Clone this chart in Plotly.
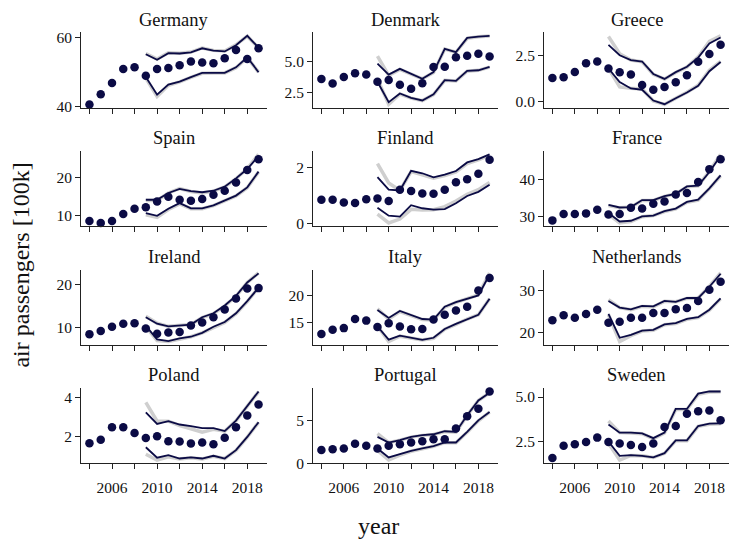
import plotly.graph_objects as go
from plotly.subplots import make_subplots

# ---- data -------------------------------------------------------------
years = list(range(2004, 2020))
fc_years = list(range(2009, 2020))

countries = ["Germany", "Denmark", "Greece", "Spain", "Finland", "France",
             "Ireland", "Italy", "Netherlands", "Poland", "Portugal", "Sweden"]

# observed passengers [100k], 2004-2019
obs = {
    "Germany": [40.7, 43.6, 46.9, 50.9, 51.4, 49.0, 50.9, 51.2, 52.0, 53.1, 52.8, 52.6, 54.0, 56.4, 53.8, 56.9],
    "Denmark": [3.58, 3.23, 3.74, 4.05, 3.94, 3.37, 3.50, 3.13, 2.81, 3.26, 4.53, 4.55, 5.31, 5.42, 5.58, 5.36],
    "Greece": [1.30, 1.34, 1.63, 2.11, 2.20, 1.82, 1.62, 1.49, 0.92, 0.66, 0.81, 1.07, 1.45, 2.19, 2.61, 3.11],
    "Spain": [8.5, 8.0, 8.5, 10.4, 11.8, 12.2, 13.7, 15.0, 14.2, 13.9, 14.4, 15.5, 16.6, 18.8, 22.1, 25.0],
    "Finland": [0.85, 0.85, 0.75, 0.73, 0.86, 0.89, 0.80, 1.21, 1.16, 1.07, 1.06, 1.21, 1.48, 1.58, 1.78, 2.29],
    "France": [29.0, 30.7, 30.7, 30.9, 31.9, 30.6, 30.7, 32.4, 32.2, 33.5, 34.1, 36.0, 36.4, 39.4, 42.9, 45.6],
    "Ireland": [8.5, 9.2, 10.2, 10.9, 11.0, 9.8, 8.6, 8.9, 9.0, 10.5, 11.2, 12.4, 14.2, 16.7, 19.0, 19.1],
    "Italy": [12.8, 13.6, 13.9, 15.6, 15.3, 14.1, 14.8, 14.2, 13.7, 13.75, 15.5, 16.4, 17.2, 17.9, 20.9, 23.25],
    "Netherlands": [22.9, 24.1, 23.5, 24.4, 25.4, 22.3, 22.5, 23.5, 23.5, 24.6, 24.6, 25.5, 25.8, 27.5, 30.2, 32.1],
    "Poland": [1.64, 1.83, 2.47, 2.47, 2.17, 1.92, 2.00, 1.75, 1.73, 1.63, 1.68, 1.59, 1.93, 2.47, 3.07, 3.64],
    "Portugal": [1.54, 1.65, 1.73, 2.27, 2.04, 1.73, 2.04, 2.23, 2.42, 2.58, 2.81, 2.81, 4.04, 5.46, 6.35, 8.35],
    "Sweden": [1.57, 2.26, 2.35, 2.48, 2.72, 2.48, 2.39, 2.31, 2.20, 2.39, 3.31, 3.37, 4.06, 4.20, 4.24, 3.70],
}

# model band (upper / lower), 2009-2019
band_hi = {
    "Germany": [55.2, 53.6, 55.5, 55.4, 55.7, 56.9, 56.2, 56.0, 57.8, 60.5, 57.1],
    "Denmark": [4.81, 3.94, 4.39, 4.02, 3.60, 4.13, 5.97, 5.71, 6.84, 6.94, 7.00],
    "Greece": [3.11, 2.54, 2.28, 2.20, 1.52, 1.25, 1.62, 1.91, 2.41, 3.19, 3.51],
    "Spain": [14.2, 14.2, 16.0, 17.1, 16.5, 16.2, 16.6, 17.7, 19.9, 22.4, 25.9],
    "Finland": [1.66, 1.21, 1.18, 1.89, 1.80, 1.65, 1.75, 1.88, 2.19, 2.31, 2.48],
    "France": [33.2, 32.5, 32.6, 34.5, 34.5, 35.6, 36.2, 38.2, 38.4, 42.1, 46.5],
    "Ireland": [12.4, 10.9, 10.3, 10.5, 10.7, 12.4, 13.3, 15.1, 17.3, 20.4, 22.5],
    "Italy": [17.3, 15.8, 17.1, 16.4, 15.6, 15.5, 17.9, 18.75, 19.4, 20.0, 23.9],
    "Netherlands": [27.5, 25.9, 25.5, 26.3, 26.2, 27.5, 27.3, 28.2, 28.2, 30.9, 34.0],
    "Poland": [3.24, 2.64, 2.78, 2.61, 2.53, 2.42, 2.42, 2.27, 2.81, 3.58, 4.31],
    "Portugal": [3.08, 2.42, 2.69, 3.08, 3.27, 3.38, 3.73, 3.65, 5.58, 7.31, 8.19],
    "Sweden": [3.46, 3.00, 3.00, 2.96, 2.69, 3.00, 4.33, 4.33, 5.19, 5.31, 5.31],
}
band_lo = {
    "Germany": [48.6, 43.5, 46.4, 47.3, 48.6, 49.8, 49.8, 49.8, 51.4, 54.3, 50.0],
    "Denmark": [3.37, 1.76, 2.44, 2.10, 1.89, 2.37, 3.50, 3.44, 4.23, 4.28, 4.55],
    "Greece": [1.82, 1.08, 0.73, 0.66, 0.07, -0.13, 0.20, 0.51, 0.88, 1.67, 2.17],
    "Spain": [10.6, 9.9, 11.8, 13.3, 11.9, 11.9, 12.7, 14.0, 15.3, 17.5, 21.7],
    "Finland": [0.56, 0.27, 0.24, 0.65, 0.54, 0.49, 0.51, 0.72, 0.98, 1.13, 1.39],
    "France": [31.0, 28.7, 28.9, 30.1, 30.3, 31.5, 32.2, 34.0, 34.6, 37.7, 41.2],
    "Ireland": [10.4, 7.3, 6.9, 7.5, 7.9, 8.8, 10.2, 11.3, 13.3, 16.1, 19.2],
    "Italy": [14.2, 11.75, 12.5, 12.1, 11.7, 12.1, 13.75, 14.7, 15.6, 16.4, 19.4],
    "Netherlands": [24.4, 18.7, 19.4, 20.4, 20.6, 21.9, 22.2, 23.2, 23.6, 25.4, 28.1],
    "Poland": [1.44, 0.90, 1.03, 0.86, 0.92, 0.86, 1.00, 0.86, 1.29, 1.97, 2.73],
    "Portugal": [1.73, 0.69, 1.08, 1.46, 1.73, 2.00, 2.42, 2.42, 3.65, 5.00, 5.96],
    "Sweden": [2.50, 1.70, 1.74, 1.70, 1.61, 1.85, 2.57, 2.57, 3.37, 3.50, 3.52],
}

# reference band (upper / lower), 2009-2019
ref_hi = {
    "Germany": [55.4, 53.8, 55.6, 55.5, 55.8, 57.0, 56.3, 56.1, 57.9, 60.4, 57.0],
    "Denmark": [5.39, 3.88, 4.35, 4.00, 3.60, 4.10, 5.95, 5.70, 6.80, 6.92, 6.98],
    "Greece": [3.56, 2.62, 2.28, 2.18, 1.50, 1.24, 1.60, 1.90, 2.45, 3.30, 3.60],
    "Spain": [14.0, 14.0, 16.0, 17.2, 16.4, 16.0, 16.5, 17.6, 19.8, 22.5, 26.3],
    "Finland": [2.15, 1.45, 1.18, 1.86, 1.74, 1.62, 1.72, 1.85, 2.15, 2.28, 2.45],
    "France": [33.0, 32.4, 32.6, 34.4, 34.4, 35.5, 36.2, 38.1, 38.4, 42.3, 46.9],
    "Ireland": [12.6, 11.0, 10.3, 10.5, 10.7, 12.3, 13.2, 15.0, 17.2, 20.4, 22.6],
    "Italy": [17.5, 15.6, 17.0, 16.3, 15.5, 15.4, 17.8, 18.7, 19.4, 20.1, 24.2],
    "Netherlands": [27.8, 25.9, 25.4, 26.2, 26.1, 27.4, 27.3, 28.1, 28.2, 31.0, 34.2],
    "Poland": [3.75, 2.78, 2.78, 2.56, 2.39, 2.22, 2.36, 2.27, 2.80, 3.57, 4.30],
    "Portugal": [3.46, 2.40, 2.70, 3.05, 3.25, 3.36, 3.70, 3.62, 5.55, 7.30, 8.20],
    "Sweden": [3.65, 3.00, 2.98, 2.94, 2.66, 2.98, 4.30, 4.30, 5.15, 5.28, 5.30],
}
ref_lo = {
    "Germany": [48.3, 43.0, 46.2, 47.2, 48.5, 49.7, 49.8, 49.8, 51.3, 54.2, 50.0],
    "Denmark": [3.60, 1.58, 2.40, 2.08, 1.88, 2.35, 3.48, 3.44, 4.20, 4.27, 4.53],
    "Greece": [1.82, 0.81, 0.74, 0.70, 0.05, -0.14, 0.20, 0.52, 0.90, 1.72, 2.20],
    "Spain": [10.2, 9.5, 11.6, 13.1, 11.8, 11.8, 12.6, 13.9, 15.2, 17.4, 21.6],
    "Finland": [0.33, 0.01, 0.15, 0.50, 0.48, 0.49, 0.60, 0.80, 1.04, 1.21, 1.47],
    "France": [30.6, 28.3, 28.7, 30.0, 30.3, 31.4, 32.1, 33.9, 34.5, 37.6, 41.1],
    "Ireland": [10.2, 7.0, 6.8, 7.4, 7.9, 8.8, 10.1, 11.2, 13.2, 16.0, 19.2],
    "Italy": [14.3, 11.4, 12.4, 12.0, 11.7, 12.0, 13.7, 14.6, 15.6, 16.4, 19.4],
    "Netherlands": [24.2, 17.8, 19.2, 20.3, 20.5, 21.8, 22.1, 23.1, 23.5, 25.3, 28.0],
    "Poland": [1.08, 0.78, 0.95, 0.83, 0.90, 0.84, 0.98, 0.86, 1.28, 1.96, 2.72],
    "Portugal": [1.50, 0.38, 0.95, 1.40, 1.70, 1.98, 2.40, 2.40, 3.60, 4.95, 5.95],
    "Sweden": [2.40, 1.46, 1.72, 1.70, 1.60, 1.84, 2.55, 2.55, 3.35, 3.47, 3.50],
}

# y tick values and labels per panel
ytick_vals = {
    "Germany": [40, 60], "Denmark": [2.5, 5.0], "Greece": [0.0, 2.5],
    "Spain": [10, 20], "Finland": [0, 2], "France": [30, 40],
    "Ireland": [10, 20], "Italy": [15, 20], "Netherlands": [20, 30],
    "Poland": [2, 4], "Portugal": [0, 5], "Sweden": [2.5, 5.0],
}
ytick_text = {
    "Germany": ["40", "60"], "Denmark": ["2.5", "5.0"], "Greece": ["0.0", "2.5"],
    "Spain": ["10", "20"], "Finland": ["0", "2"], "France": ["30", "40"],
    "Ireland": ["10", "20"], "Italy": ["15", "20"], "Netherlands": ["20", "30"],
    "Poland": ["2", "4"], "Portugal": ["0", "5"], "Sweden": ["2.5", "5.0"],
}
xtick_vals = [2004, 2006, 2008, 2010, 2012, 2014, 2016, 2018]
xtick_text = ["", "2006", "", "2010", "", "2014", "", "2018"]

# ---- styling -----------------------------------------------------------
NAVY = "#0b0b45"
GREY = "#cfcfcf"
FONT = "Liberation Serif"
W, H = 730, 544

# panel boxes in pixels: (left, right) per column, (top, bottom) per row
col_px = [(81, 267), (313, 498), (544, 729)]
row_px = [(30, 107), (151, 228), (272, 349), (393, 470)]

fig = make_subplots(rows=4, cols=3)

def pad_range(values, frac=0.05):
    lo, hi = min(values), max(values)
    m = (hi - lo) * frac
    return [lo - m, hi + m]

x_range = pad_range(years)

annotations = []
for i, name in enumerate(countries):
    r, c = divmod(i, 3)
    row, col = r + 1, c + 1
    for ys in (ref_hi[name], ref_lo[name]):
        fig.add_trace(go.Scatter(x=fc_years, y=ys, mode="lines",
                                 line=dict(color=GREY, width=3.5),
                                 showlegend=False, hoverinfo="skip"),
                      row=row, col=col)
    for ys in (band_hi[name], band_lo[name]):
        fig.add_trace(go.Scatter(x=fc_years, y=ys, mode="lines",
                                 line=dict(color=NAVY, width=1.8),
                                 showlegend=False),
                      row=row, col=col)
    fig.add_trace(go.Scatter(x=years, y=obs[name], mode="markers",
                             marker=dict(color=NAVY, size=8.5),
                             showlegend=False, cliponaxis=False),
                  row=row, col=col)

    allv = obs[name] + band_hi[name] + band_lo[name] + ref_hi[name] + ref_lo[name]
    x0, x1 = col_px[c]
    y0, y1 = row_px[r]
    fig.update_xaxes(domain=[x0 / W, x1 / W], range=x_range,
                     tickvals=xtick_vals,
                     ticktext=xtick_text if r == 3 else [""] * len(xtick_vals),
                     row=row, col=col)
    fig.update_yaxes(domain=[1 - y1 / H, 1 - y0 / H], range=pad_range(allv),
                     tickvals=ytick_vals[name], ticktext=ytick_text[name],
                     row=row, col=col)
    annotations.append(dict(text=name, x=(x0 + x1) / 2 / W, y=1 - (y0 - 13) / H,
                            xref="paper", yref="paper", showarrow=False,
                            xanchor="center", yanchor="middle",
                            font=dict(family=FONT, size=18.5, color="#111")))

axis_style = dict(showgrid=False, zeroline=False, showline=True,
                  linecolor="#222", linewidth=1, ticks="outside",
                  ticklen=5, tickwidth=1, tickcolor="#222",
                  tickfont=dict(family=FONT, size=15.5, color="#111"))
fig.update_xaxes(ticklabelstandoff=5, **axis_style)
fig.update_yaxes(**axis_style)

annotations.append(dict(text="year", x=378 / W, y=1 - 534 / H, xref="paper",
                        yref="paper", showarrow=False, xanchor="center",
                        yanchor="middle",
                        font=dict(family=FONT, size=24, color="#111")))
annotations.append(dict(text="air passengers [100k]", x=21 / W, y=1 - 268 / H,
                        xref="paper", yref="paper", showarrow=False,
                        textangle=-90, xanchor="center", yanchor="middle",
                        font=dict(family=FONT, size=24, color="#111")))

fig.update_layout(width=W, height=H, margin=dict(l=0, r=0, t=0, b=0),
                  plot_bgcolor="white", paper_bgcolor="white",
                  annotations=annotations, showlegend=False)

fig.write_html("out.html")
